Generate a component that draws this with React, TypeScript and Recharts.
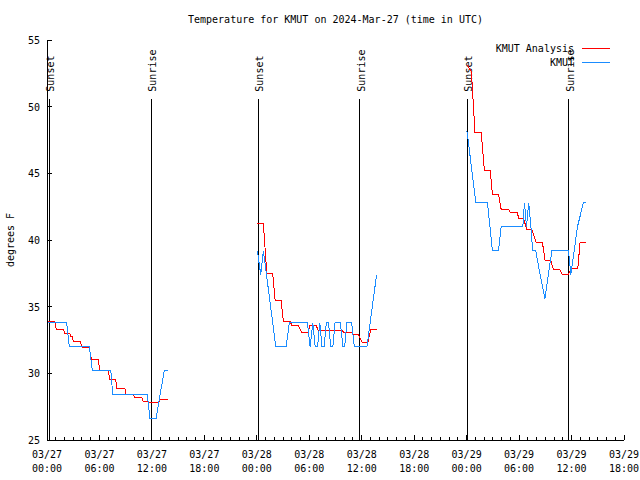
import { LineChart, Line, XAxis, YAxis, ReferenceLine } from 'recharts';

const FONT = '"DejaVu Sans Mono", monospace';
const PLOT_LEFT = 47;
const PLOT_RIGHT = 624;
const PLOT_TOP = 40;
const PLOT_BOTTOM = 440;

const dayLabels = ['03/27', '03/28', '03/29'];
const hourTicks = Array.from({ length: 67 }, (_, i) => i);
const tempTicks = [25, 30, 35, 40, 45, 50, 55];

// [hour since 03/27 00:00 UTC, deg F]
const analysisNight1: [number, number][] = [
  [0.15, 33.87], [0.9, 33.87], [1.05, 33.3], [1.9, 33.3], [2.0, 33.0], [2.6, 33.0], [2.7, 32.8], [2.9, 32.8],
  [3.0, 32.4], [3.8, 32.4], [3.95, 32.1], [4.1, 31.95], [4.8, 31.95], [5.1, 31.05], [5.85, 31.05], [6.05, 30.2],
  [7.0, 30.2], [7.2, 29.55], [7.85, 29.55], [8.0, 28.9], [8.9, 28.9], [9.05, 28.45], [9.85, 28.45], [10.05, 28.2],
  [10.85, 28.2], [11.0, 27.9], [11.55, 27.9], [11.65, 27.8], [12.75, 27.8], [12.95, 28.05], [13.8, 28.05],
];
const analysisNight2: [number, number][] = [
  [24.06, 41.25], [24.75, 41.25], [25.14, 37.5], [25.82, 37.5], [26.09, 35.5], [26.77, 35.5], [27.04, 33.9],
  [27.8, 33.9], [28.0, 33.6], [28.75, 33.6], [29.1, 33.1], [29.9, 33.1], [30.05, 33.6], [30.78, 33.6],
  [31.0, 33.25], [33.72, 33.25], [33.95, 33.05], [34.86, 33.05], [34.95, 32.9], [35.62, 32.9], [36.05, 32.3],
  [36.69, 32.3], [37.05, 33.3], [37.72, 33.3],
];
const analysisNight3: [number, number][] = [
  [48.1, 53.1], [48.55, 52.6], [48.95, 48.1], [49.66, 48.1], [50.03, 45.25], [50.69, 45.25], [50.95, 43.45],
  [51.64, 43.45], [51.95, 42.3], [52.78, 42.3], [52.97, 42.1], [53.74, 42.1], [54.0, 41.6], [54.5, 41.6],
  [54.89, 40.8], [55.46, 40.8], [55.95, 39.8], [56.67, 39.8], [56.98, 38.45], [57.63, 38.45], [57.93, 37.8],
  [58.62, 37.8], [58.96, 37.4], [59.65, 37.4], [59.95, 37.9], [60.72, 37.9], [60.98, 39.85], [61.67, 39.85],
];

const obsNight1: [number, number][] = [
  [0.15, 33.8], [2.25, 33.8], [2.55, 32.0], [4.84, 32.0], [5.18, 30.2], [7.3, 30.2], [7.52, 28.4],
  [11.48, 28.4], [11.78, 26.6], [12.47, 26.6], [12.93, 28.4], [13.42, 30.2], [13.81, 30.2],
];
const obsNight2: [number, number][] = [
  [24.06, 39.2], [24.45, 37.4], [24.75, 39.2], [26.17, 32.0], [27.35, 32.0], [27.72, 33.8], [29.78, 33.8],
  [30.1, 32.0], [30.4, 33.8], [30.67, 32.0], [30.95, 32.0], [31.2, 33.8], [31.45, 32.0], [31.7, 32.0],
  [31.95, 33.8], [32.2, 33.8], [32.45, 32.0], [32.7, 32.0], [32.95, 33.8], [33.55, 33.8], [33.85, 32.0],
  [34.05, 32.0], [34.3, 33.8], [34.85, 33.8], [35.15, 32.0], [36.6, 32.0], [37.7, 37.4],
];
const obsNight3: [number, number][] = [
  [48.02, 48.2], [48.15, 47.6], [49.05, 42.8], [50.38, 42.8], [50.95, 39.2], [51.64, 39.2], [51.95, 41.0],
  [54.43, 41.0], [54.61, 42.8], [54.85, 41.0], [55.1, 42.8], [55.35, 41.0], [55.55, 39.2], [55.9, 39.2],
  [56.4, 37.4], [56.95, 35.6], [57.35, 37.4], [57.75, 39.2], [59.65, 39.2], [59.92, 37.4], [60.3, 39.2],
  [60.68, 41.0], [61.36, 42.8], [61.64, 42.8],
];

const sunEvents = [
  { hour: 0.25, label: 'Sunset' },
  { hour: 11.9, label: 'Sunrise' },
  { hour: 24.15, label: 'Sunset' },
  { hour: 35.75, label: 'Sunrise' },
  { hour: 48.05, label: 'Sunset' },
  { hour: 59.7, label: 'Sunrise' },
];
const sunLineTop = 50.6;

const series = [
  { name: 'KMUT Analysis', color: '#ff0000', parts: [analysisNight1, analysisNight2, analysisNight3] },
  { name: 'KMUT', color: '#1a8cff', parts: [obsNight1, obsNight2, obsNight3] },
];

// join the nights, with a null after each one so the line breaks
const toRows = (parts: [number, number][][]) =>
  parts.flatMap((p) => [
    ...p.map(([hour, temp]) => ({ hour, temp })),
    { hour: p[p.length - 1][0] + 0.01, temp: null as number | null },
  ]);

const txt = { fontFamily: FONT, fontSize: 10, fill: '#000' };

function BottomTick({ x, payload }: any) {
  const h = payload.value as number;
  const major = h % 6 === 0;
  const day = dayLabels[Math.min(Math.floor(h / 24), 2)];
  const time = `${String(h % 24).padStart(2, '0')}:00`;
  return (
    <g>
      <line x1={x} x2={x} y1={PLOT_BOTTOM} y2={PLOT_BOTTOM - (major ? 5 : 3)} stroke="#000" shapeRendering="crispEdges" />
      {major && (
        <text x={x} y={PLOT_BOTTOM + 18} textAnchor="middle" {...txt}>{day}</text>
      )}
      {major && (
        <text x={x} y={PLOT_BOTTOM + 32} textAnchor="middle" {...txt}>{time}</text>
      )}
    </g>
  );
}

function TopTick({ x, payload }: any) {
  const major = (payload.value as number) % 6 === 0;
  return <line x1={x} x2={x} y1={PLOT_TOP} y2={PLOT_TOP + (major ? 5 : 3)} stroke="#000" shapeRendering="crispEdges" />;
}

function LeftTick({ y, payload }: any) {
  return (
    <g>
      <line x1={PLOT_LEFT} x2={PLOT_LEFT + 5} y1={y} y2={y} stroke="#000" shapeRendering="crispEdges" />
      <text x={PLOT_LEFT - 7} y={y + 4} textAnchor="end" {...txt}>{payload.value}</text>
    </g>
  );
}

function RightTick({ y }: any) {
  return <line x1={PLOT_RIGHT} x2={PLOT_RIGHT - 5} y1={y} y2={y} stroke="#000" shapeRendering="crispEdges" />;
}

function SunLabel({ viewBox, text }: any) {
  const x = viewBox.x + 5;
  const y = viewBox.y - 7;
  return (
    <text x={x} y={y} transform={`rotate(-90 ${x} ${y})`} textAnchor="start" {...txt}>
      {text}
    </text>
  );
}

const axisLine = { stroke: '#000', shapeRendering: 'crispEdges' };

export default function App() {
  return (
    <div style={{ position: 'absolute', left: 0, top: 0, width: 640, height: 480, background: '#fff' }}>
      <LineChart width={640} height={480} margin={{ top: PLOT_TOP, right: 640 - PLOT_RIGHT, bottom: 0, left: 0 }}>
        <XAxis
          xAxisId="b"
          dataKey="hour"
          type="number"
          domain={[0, 66]}
          ticks={hourTicks}
          interval={0}
          height={480 - PLOT_BOTTOM}
          axisLine={axisLine}
          tickLine={false}
          tick={<BottomTick />}
        />
        <XAxis
          xAxisId="t"
          orientation="top"
          dataKey="hour"
          type="number"
          domain={[0, 66]}
          ticks={hourTicks}
          interval={0}
          height={0}
          axisLine={axisLine}
          tickLine={false}
          tick={<TopTick />}
        />
        <YAxis
          yAxisId="l"
          type="number"
          domain={[25, 55]}
          ticks={tempTicks}
          interval={0}
          width={PLOT_LEFT}
          axisLine={axisLine}
          tickLine={false}
          tick={<LeftTick />}
        />
        <YAxis
          yAxisId="r"
          orientation="right"
          type="number"
          domain={[25, 55]}
          ticks={tempTicks}
          interval={0}
          width={0}
          axisLine={axisLine}
          tickLine={false}
          tick={<RightTick />}
        />
        {sunEvents.map((s, i) => (
          <ReferenceLine
            key={i}
            xAxisId="b"
            yAxisId="l"
            segment={[{ x: s.hour, y: sunLineTop }, { x: s.hour, y: 25 }]}
            stroke="#000"
            strokeWidth={1}
            shapeRendering="crispEdges"
            label={<SunLabel text={s.label} />}
          />
        ))}
        {series.map((s) => (
          <Line
            key={s.name}
            xAxisId="b"
            yAxisId="l"
            data={toRows(s.parts)}
            dataKey="temp"
            name={s.name}
            type="linear"
            stroke={s.color}
            strokeWidth={1}
            shapeRendering="crispEdges"
            dot={false}
            activeDot={false}
            connectNulls={false}
            isAnimationActive={false}
          />
        ))}
      </LineChart>
      <svg width={640} height={480} style={{ position: 'absolute', left: 0, top: 0, pointerEvents: 'none' }}>
        <text x={(PLOT_LEFT + PLOT_RIGHT) / 2} y={23} textAnchor="middle" {...txt}>
          Temperature for KMUT on 2024-Mar-27 (time in UTC)
        </text>
        <text x={14} y={240} transform="rotate(-90 14 240)" textAnchor="middle" {...txt}>
          degrees F
        </text>
        {series.map((s, i) => (
          <g key={s.name}>
            <text x={574} y={52 + i * 14} textAnchor="end" {...txt}>{s.name}</text>
            <line x1={582} x2={610} y1={48 + i * 14} y2={48 + i * 14} stroke={s.color} shapeRendering="crispEdges" />
          </g>
        ))}
      </svg>
    </div>
  );
}
